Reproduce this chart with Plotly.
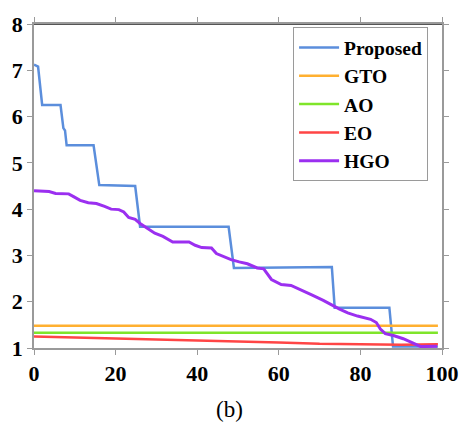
import plotly.graph_objects as go

# Proposed (step-wise convergence)
prop_x = [0, 1, 2, 6.5, 7.2, 7.6, 8, 14.6, 16, 24.8, 26, 47.7, 49, 73, 73.7, 87.1, 88, 99]
prop_y = [7.12, 7.08, 6.25, 6.25, 5.75, 5.7, 5.38, 5.38, 4.52, 4.5, 3.62, 3.62, 2.73, 2.75, 1.87, 1.87, 1.03, 1.03]

# GTO, AO (flat)
gto_x = [0, 99]
gto_y = [1.48, 1.48]
ao_x = [0, 99]
ao_y = [1.33, 1.33]

# EO
eo_x = [0, 10, 20, 30, 40, 50, 60, 70, 80, 90, 99]
eo_y = [1.25, 1.23, 1.21, 1.18, 1.16, 1.14, 1.12, 1.09, 1.08, 1.07, 1.08]

# HGO
hgo_x = [0, 3.7, 5.3, 8.5, 9.7, 11.3, 13.3, 15.3, 17.3, 18.9, 20.8, 22, 23.2, 24.8, 26, 28,
         29.6, 31.6, 34, 38, 39.5, 41.1, 43.5, 44.7, 46.7, 48.3, 50.3, 52.3, 54.7, 56.3, 58.2,
         60.6, 63, 65.4, 68.2, 70.9, 73.3, 74.9, 76.9, 79.3, 82.5, 83.9, 84.9, 86.1, 88.1,
         90.5, 92.8, 94.8, 98.8]
hgo_y = [4.40, 4.38, 4.34, 4.33, 4.27, 4.19, 4.14, 4.12, 4.06, 4.00, 3.99, 3.94, 3.82, 3.78,
         3.69, 3.57, 3.48, 3.41, 3.29, 3.29, 3.22, 3.17, 3.16, 3.04, 2.96, 2.91, 2.86, 2.82,
         2.73, 2.71, 2.48, 2.37, 2.35, 2.26, 2.14, 2.03, 1.91, 1.84, 1.76, 1.69, 1.62, 1.55,
         1.41, 1.31, 1.27, 1.20, 1.11, 1.03, 1.04]

x_ticks = [0, 20, 40, 60, 80, 100]
y_ticks = [1, 2, 3, 4, 5, 6, 7, 8]

serif = "Liberation Serif, Times New Roman, serif"

fig = go.Figure()
fig.add_trace(go.Scatter(x=prop_x, y=prop_y, mode="lines", name="Proposed",
                         line=dict(color="#5B8EDC", width=2.5)))
fig.add_trace(go.Scatter(x=gto_x, y=gto_y, mode="lines", name="GTO",
                         line=dict(color="#FFB030", width=2.5)))
fig.add_trace(go.Scatter(x=ao_x, y=ao_y, mode="lines", name="AO",
                         line=dict(color="#7FE52A", width=2.5)))
fig.add_trace(go.Scatter(x=eo_x, y=eo_y, mode="lines", name="EO",
                         line=dict(color="#FF4545", width=2.5)))
fig.add_trace(go.Scatter(x=hgo_x, y=hgo_y, mode="lines", name="HGO",
                         line=dict(color="#9B2FF0", width=3)))

axis_common = dict(showgrid=False, zeroline=False, showline=True, linecolor="#9a9a9a",
                   linewidth=1.5, mirror="ticks", ticks="outside", ticklen=5,
                   tickcolor="#9a9a9a", tickwidth=1,
                   tickfont=dict(family=serif, size=22, color="black", weight="bold"))

fig.update_layout(
    width=471, height=425,
    margin=dict(l=31, r=21, t=15, b=77),
    paper_bgcolor="white", plot_bgcolor="white",
    xaxis=dict(range=[0, 100], tickvals=x_ticks, **axis_common),
    yaxis=dict(range=[1, 8], tickvals=y_ticks, **axis_common),
    showlegend=True,
    legend=dict(x=0.635, y=0.99, xanchor="left", yanchor="top",
                bgcolor="white", bordercolor="#9a9a9a", borderwidth=1,
                font=dict(family=serif, size=19.5, color="black", weight="bold"),
                itemwidth=40, tracegroupgap=0),
)
fig.add_shape(type="line", xref="x", yref="y", x0=0, x1=100, y0=8, y1=8,
              line=dict(color="#555555", width=2))
fig.add_annotation(text="(b)", xref="paper", yref="paper", x=(232 - 31) / 419, y=-0.19,
                   xanchor="center", yanchor="middle", showarrow=False,
                   font=dict(family=serif, size=23, color="black"))

fig.write_html("out.html")
